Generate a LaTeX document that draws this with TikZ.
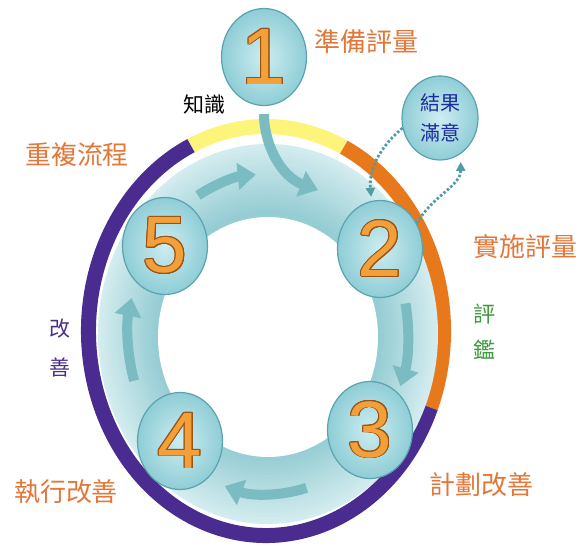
\documentclass[tikz,border=0pt]{standalone}
\usepackage{fontspec}
\setmainfont{Liberation Sans}
\newfontfamily\cjk{Noto Sans CJK TC}
\usepackage{contour}
\contourlength{0.9pt}
\usetikzlibrary{shapes.geometric,arrows.meta}
\definecolor{amarelo}{HTML}{FDF47C}
\definecolor{laranja}{HTML}{E8781C}
\definecolor{roxo}{HTML}{4A2B8F}
\definecolor{bandaout}{HTML}{D3ECEF}
\definecolor{bandain}{HTML}{92CBD2}
\definecolor{bolain}{HTML}{CDEDF1}
\definecolor{bolaout}{HTML}{8FCDD6}
\definecolor{bordabola}{HTML}{5AA3AE}
\definecolor{setacor}{HTML}{7BBBC2}
\definecolor{pontocor}{HTML}{4F9BA6}
\definecolor{laranjatxt}{HTML}{E2773A}
\definecolor{verde}{HTML}{3E9B3E}
\definecolor{azul}{HTML}{1C2C9E}
\definecolor{laranjanum}{HTML}{F3A03A}
\definecolor{contorno}{HTML}{9A5210}
\begin{document}
\begin{tikzpicture}[x=1pt,y=1pt,
		anel/.style={line width=15pt},
		bola/.style={ellipse,draw=bordabola,line width=1.2pt,inner sep=0pt,minimum width=85pt,minimum height=97pt,shading=radial,inner color=bolain,outer color=bolaout},
		num/.style={text=laranjanum,font=\fontsize{80}{80}\selectfont},
		fluxo/.style={draw=setacor,line width=10pt,-{Triangle[width=26pt,length=18pt]}},
		pontilhado/.style={draw=pontocor,line width=2.8pt,dash pattern=on 2.5pt off 2pt,-{Triangle[width=9pt,length=9pt]}},
		rot/.style={text=laranjatxt,font=\cjk\fontsize{26}{26}\selectfont}]
		\useasboundingbox (0,0) rectangle (579,546);

		% O anel colorido de fora
			\coordinate (rc) at (266,215);
			\draw[anel,amarelo] ([shift={(115:177.5 and 204.5)}]rc) arc[start angle=115,end angle=64,x radius=177.5,y radius=204.5];
			\draw[anel,laranja] ([shift={(64:177.5 and 204.5)}]rc) arc[start angle=64,end angle=-22,x radius=177.5,y radius=204.5];
			\draw[anel,roxo] ([shift={(-22:177.5 and 204.5)}]rc) arc[start angle=-22,end angle=-245,x radius=177.5,y radius=204.5];

		% A faixa azul-clara
			\coordinate (bc) at (268,212);
			\foreach \i in {0,...,19}{
				\pgfmathsetmacro\rx{170-3*\i}
				\pgfmathsetmacro\ry{190-3.5*\i}
				\pgfmathtruncatemacro\p{5*\i}
				\fill[bandain!\p!bandaout] (bc) ellipse[x radius=\rx,y radius=\ry];
			}
			\fill[white] ([yshift=-3pt]bc) ellipse[x radius=110,y radius=120];

		% As bolas numeradas
			\node[bola,num] (c1) at (264,489) {\contour{contorno}{1}};
			\node[bola,num] (c2) at (380,297) {\contour{contorno}{2}};
			\node[bola,num] (c3) at (370,116) {\contour{contorno}{3}};
			\node[bola,num] (c4) at (180,105) {\contour{contorno}{4}};
			\node[bola,num] (c5) at (165,300) {\contour{contorno}{5}};
			\node[bola,minimum width=76pt,minimum height=84pt,align=center,text=azul,font=\cjk\fontsize{20}{30}\selectfont] (res) at (440,428) {結果\\滿意};

		% As setas do ciclo
			\draw[fluxo] ([shift={(120:140 and 160)}]bc) arc[start angle=120,end angle=95,x radius=140,y radius=160];
			\draw[fluxo] ([shift={(11:140 and 160)}]bc) arc[start angle=11,end angle=-19,x radius=140,y radius=160];
			\draw[fluxo] ([shift={(-74:140 and 160)}]bc) arc[start angle=-74,end angle=-108,x radius=140,y radius=160];
			\draw[fluxo] ([shift={(197:140 and 160)}]bc) arc[start angle=197,end angle=167,x radius=140,y radius=160];
			\coordinate (kn) at (318,356);
			\draw[fluxo,shorten <=8pt] (c1.south) to[out=-90,in=160] (kn);

		% Ida e volta do resultado
			\draw[pontilhado,shorten >=4pt] (res.195) to[out=220,in=95] (c2.100);
			\draw[pontilhado,shorten >=8pt] (c2.35) to[out=60,in=270] (res.-60);

		% Os textos
			\node[rot] (lprep) at (366,504) {準備評量};
			\node[rot,text=black,font=\cjk\fontsize{21}{21}\selectfont] (lknow) at (204,442) {知識};
			\node[rot] (lrepeat) at (77,391) {重複流程};
			\node[rot] (limpl) at (525,299) {實施評量};
			\node[rot,text=verde,font=\cjk\fontsize{22}{36}\selectfont,align=center] (leval) at (484,214) {評\\鑑};
			\node[rot] (lplan) at (481,61) {計劃改善};
			\node[rot] (lexec) at (66,54) {執行改善};
			\node[rot,text=roxo,font=\cjk\fontsize{21}{39}\selectfont,align=center] (limprove) at (60,198) {改\\善};
	\end{tikzpicture}
\end{document}
